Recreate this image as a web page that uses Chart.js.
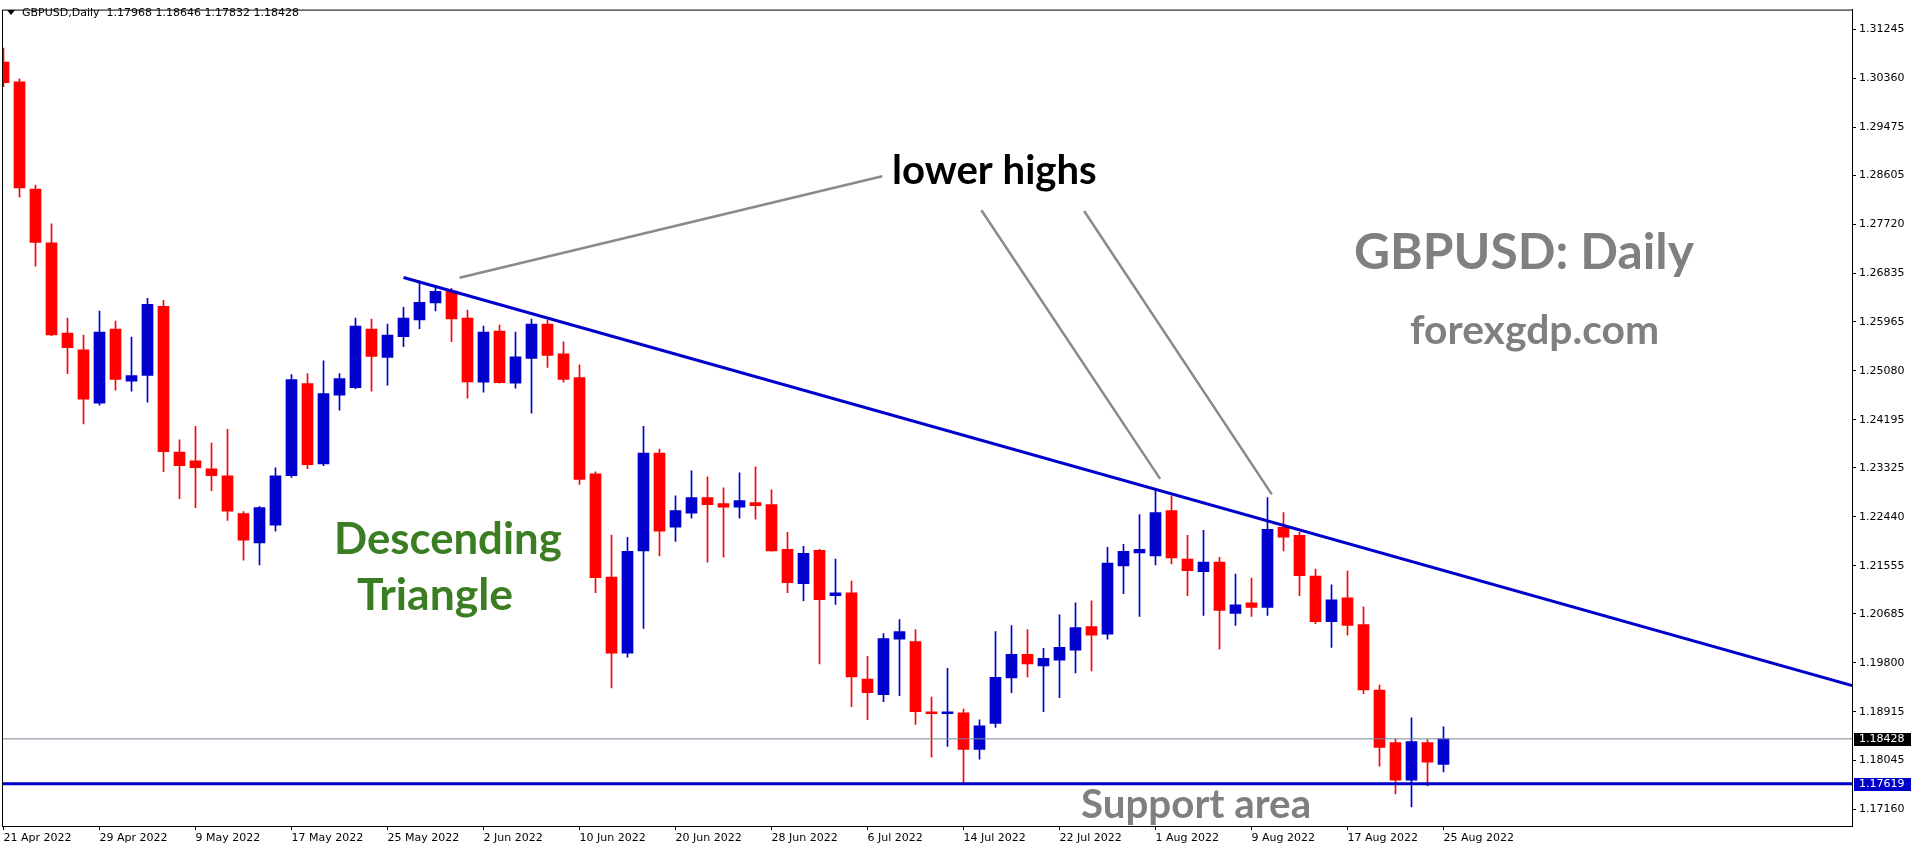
<!DOCTYPE html>
<html>
<head>
<meta charset="utf-8">
<title>GBPUSD Daily</title>
<script src="https://cdn.jsdelivr.net/npm/chart.js@4.4.1/dist/chart.umd.min.js"></script>
<style>
  html, body { margin: 0; padding: 0; background: #fff; }
</style>
</head>
<body>
<canvas id="myChart" width="1916" height="850"></canvas>
<script>
const symbol = "GBPUSD";

// one entry per daily candle (2022)
const dates = [
  "21 Apr", "22 Apr", "25 Apr", "26 Apr", "27 Apr", "28 Apr", "29 Apr",
  "2 May", "3 May", "4 May", "5 May", "6 May", "9 May", "10 May", "11 May", "12 May", "13 May",
  "16 May", "17 May", "18 May", "19 May", "20 May", "23 May", "24 May", "25 May", "26 May", "27 May",
  "30 May", "31 May", "1 Jun", "2 Jun", "3 Jun", "6 Jun", "7 Jun", "8 Jun", "9 Jun", "10 Jun",
  "13 Jun", "14 Jun", "15 Jun", "16 Jun", "17 Jun", "20 Jun", "21 Jun", "22 Jun", "23 Jun", "24 Jun",
  "27 Jun", "28 Jun", "29 Jun", "30 Jun", "1 Jul", "4 Jul", "5 Jul", "6 Jul", "7 Jul", "8 Jul",
  "11 Jul", "12 Jul", "13 Jul", "14 Jul", "15 Jul", "18 Jul", "19 Jul", "20 Jul", "21 Jul", "22 Jul",
  "25 Jul", "26 Jul", "27 Jul", "28 Jul", "29 Jul", "1 Aug", "2 Aug", "3 Aug", "4 Aug", "5 Aug",
  "8 Aug", "9 Aug", "10 Aug", "11 Aug", "12 Aug", "15 Aug", "16 Aug", "17 Aug", "18 Aug", "19 Aug",
  "22 Aug", "23 Aug", "24 Aug", "25 Aug"
];

const open = [
  1.30653, 1.30300, 1.28359, 1.27391, 1.25761, 1.25456, 1.24493, 1.25832, 1.24888, 1.24995,
  1.26244, 1.23610, 1.23449, 1.23305, 1.23180, 1.22499, 1.21967, 1.22289, 1.23185, 1.24847,
  1.23395, 1.24637, 1.24775, 1.25832, 1.25318, 1.25694, 1.25999, 1.26304, 1.26519, 1.26029,
  1.24870, 1.25796, 1.24852, 1.25300, 1.25922, 1.25384, 1.24954, 1.23216, 1.21352, 1.19977,
  1.21823, 1.23592, 1.22253, 1.22504, 1.22786, 1.22678, 1.22612, 1.22696, 1.22660, 1.21854,
  1.21232, 1.21836, 1.21017, 1.21065, 1.19506, 1.19225, 1.20228, 1.20187, 1.18915, 1.18884,
  1.18897, 1.18239, 1.18705, 1.19529, 1.19954, 1.19744, 1.19852, 1.20031, 1.20456, 1.20318,
  1.21554, 1.21787, 1.21734, 1.22553, 1.21675, 1.21447, 1.21621, 1.20694, 1.20886, 1.20802,
  1.22248, 1.22105, 1.21370, 1.20546, 1.20976, 1.20492, 1.19309, 1.18359, 1.17684, 1.18359,
  1.17968
];
const high = [
  1.30909, 1.30354, 1.28431, 1.27732, 1.26029, 1.25725, 1.26155, 1.25976, 1.25689, 1.26388,
  1.26352, 1.23830, 1.24076, 1.23771, 1.24022, 1.22535, 1.22624, 1.23323, 1.25008, 1.25026,
  1.25259, 1.25026, 1.26029, 1.26011, 1.25922, 1.26226, 1.26698, 1.26590, 1.26567, 1.26173,
  1.25886, 1.25904, 1.25778, 1.26011, 1.25994, 1.25599, 1.25187, 1.23252, 1.22110, 1.22069,
  1.24076, 1.23664, 1.22821, 1.23269, 1.23162, 1.22965, 1.23234, 1.23341, 1.22929, 1.22158,
  1.21907, 1.21854, 1.21675, 1.21280, 1.19918, 1.20330, 1.20581, 1.20402, 1.19184, 1.19703,
  1.18968, 1.18771, 1.20366, 1.20474, 1.20402, 1.20062, 1.20671, 1.20886, 1.20922, 1.21890,
  1.21943, 1.22481, 1.22929, 1.22821, 1.22105, 1.22194, 1.21710, 1.21406, 1.21334, 1.22786,
  1.22517, 1.22158, 1.21495, 1.21209, 1.21459, 1.20814, 1.19399, 1.18431, 1.18807, 1.18413,
  1.18646
];
const low = [
  1.30210, 1.28216, 1.26967, 1.25712, 1.25026, 1.24117, 1.24458, 1.24726, 1.24708, 1.24511,
  1.23257, 1.22768, 1.22606, 1.22911, 1.22373, 1.21657, 1.21572, 1.22182, 1.23153, 1.23311,
  1.23364, 1.24368, 1.24757, 1.24708, 1.24816, 1.25515, 1.25838, 1.26160, 1.25605, 1.24583,
  1.24691, 1.24852, 1.24762, 1.24314, 1.25139, 1.24870, 1.23024, 1.21071, 1.19350, 1.19906,
  1.20425, 1.21734, 1.21997, 1.22415, 1.21621, 1.21710, 1.22415, 1.22397, 1.21820, 1.21071,
  1.20927, 1.19780, 1.20856, 1.19010, 1.18777, 1.19099, 1.19207, 1.18687, 1.18096, 1.18293,
  1.17619, 1.18060, 1.18633, 1.19261, 1.19547, 1.18920, 1.19171, 1.19619, 1.19655, 1.20228,
  1.21053, 1.20640, 1.21572, 1.21590, 1.21017, 1.20658, 1.20049, 1.20479, 1.20640, 1.20658,
  1.21823, 1.21017, 1.20510, 1.20080, 1.20300, 1.19243, 1.17934, 1.17433, 1.17200, 1.17576,
  1.17832
];
const close = [
  1.30282, 1.28382, 1.27397, 1.25725, 1.25497, 1.24565, 1.25778, 1.24924, 1.24990, 1.26280,
  1.23615, 1.23364, 1.23329, 1.23185, 1.22540, 1.22020, 1.22606, 1.23180, 1.24918, 1.23382,
  1.24667, 1.24936, 1.25886, 1.25336, 1.25725, 1.26029, 1.26316, 1.26513, 1.26017, 1.24877,
  1.25778, 1.24864, 1.25330, 1.25922, 1.25354, 1.24924, 1.23114, 1.21339, 1.19977, 1.21818,
  1.23592, 1.22182, 1.22553, 1.22786, 1.22660, 1.22612, 1.22732, 1.22642, 1.21823, 1.21250,
  1.21782, 1.20945, 1.21065, 1.19547, 1.19261, 1.20241, 1.20366, 1.18920, 1.18884, 1.18915,
  1.18239, 1.18664, 1.19542, 1.19954, 1.19780, 1.19882, 1.20080, 1.20438, 1.20300, 1.21603,
  1.21818, 1.21854, 1.22517, 1.21698, 1.21465, 1.21621, 1.20748, 1.20850, 1.20802, 1.22212,
  1.22074, 1.21375, 1.20546, 1.20940, 1.20479, 1.19314, 1.18275, 1.17684, 1.18377, 1.18006,
  1.18428
];

// axis ticks
const xTicks = [0, 6, 12, 18, 24, 30, 36, 42, 48, 54, 60, 66, 72, 78, 84, 90];
const xTickLabels = [
  "21 Apr 2022", "29 Apr 2022", "9 May 2022", "17 May 2022", "25 May 2022", "2 Jun 2022",
  "10 Jun 2022", "20 Jun 2022", "28 Jun 2022", "6 Jul 2022", "14 Jul 2022", "22 Jul 2022",
  "1 Aug 2022", "9 Aug 2022", "17 Aug 2022", "25 Aug 2022"
];
const yTicks = [
  1.31245, 1.30360, 1.29475, 1.28605, 1.27720, 1.26835, 1.25965, 1.25080, 1.24195,
  1.23325, 1.22440, 1.21555, 1.20685, 1.19800, 1.18915, 1.18045, 1.17160
];

// drawn lines (candle index, price)
const trendX = [25, 115.54];
const trendY = [1.26764, 1.19390];
const supportLevel = 1.17619;
const bidLevel = 1.18428;
const pointerX = [[28.5, 54.92], [61.12, 72.29], [67.54, 79.27]];
const pointerY = [[1.26759, 1.28592], [1.27977, 1.23126], [1.27965, 1.22845]];

const bullColor = "#0000cc";
const bearColor = "#ff0000";
const candleColors = close.map((c, i) => (c >= open[i] ? bullColor : bearColor));

const bodies = dates.map((d, i) => ({ x: i, y: [open[i], close[i]] }));
const wicks = dates.map((d, i) => ({ x: i, y: [low[i], high[i]] }));

const lineSet = (pts, color, width) => ({
  type: "line",
  data: pts,
  borderColor: color,
  borderWidth: width,
  pointRadius: 0,
  tension: 0,
  clip: 0,
  order: 1,
});

const pointerSets = pointerX.map((xs, k) =>
  lineSet(
    [{ x: xs[0], y: pointerY[k][0] }, { x: xs[1], y: pointerY[k][1] }],
    "#8a8a8a",
    2.5
  )
);

// texts on the chart
const notes = [
  { text: "lower highs", x: 892, w: 205, y: 171, color: "#000000" },
  { text: "GBPUSD: Daily", x: 1354, w: 340, y: 253, color: "#808080" },
  { text: "forexgdp.com", x: 1410, w: 249, y: 331, color: "#808080" },
  { text: "Descending", x: 334, w: 228, y: 540, color: "#3b7d23" },
  { text: "Triangle", x: 357, w: 156, y: 596, color: "#3b7d23" },
  { text: "Support area", x: 1081, w: 230, y: 805, color: "#808080" },
];

const axisFont = "11px 'DejaVu Sans'";

const fitFont = (ctx, text, width) => {
  ctx.font = "bold 40px Lato";
  const size = (40 * width) / ctx.measureText(text).width;
  return `bold ${size.toFixed(1)}px Lato`;
};

const overlay = {
  id: "overlay",
  afterDraw(chart) {
    const ctx = chart.ctx;
    const a = chart.chartArea;
    const yScale = chart.scales.y;
    ctx.save();

    // frame
    ctx.strokeStyle = "#000";
    ctx.lineWidth = 1;
    ctx.strokeRect(a.left + 0.5, a.top + 0.5, a.right - a.left, a.bottom - a.top);

    // header
    ctx.fillStyle = "#000";
    ctx.beginPath();
    ctx.moveTo(7, 10);
    ctx.lineTo(15, 10);
    ctx.lineTo(11, 15);
    ctx.closePath();
    ctx.fill();
    const last = close.length - 1;
    ctx.font = axisFont;
    ctx.textBaseline = "middle";
    ctx.textAlign = "left";
    ctx.fillText(
      `${symbol},Daily  ${open[last].toFixed(5)} ${high[last].toFixed(5)} ${low[last].toFixed(5)} ${close[last].toFixed(5)}`,
      22, 13
    );

    // price tags on the axis
    const tag = (value, bg) => {
      const py = Math.round(yScale.getPixelForValue(value));
      ctx.fillStyle = bg;
      ctx.fillRect(a.right + 2, py - 6, 57, 13);
      ctx.fillStyle = "#fff";
      ctx.font = axisFont;
      ctx.fillText(value.toFixed(5), a.right + 7, py + 0.5);
    };
    tag(bidLevel, "#000000");
    tag(supportLevel, bullColor);

    // annotations
    notes.forEach((n) => {
      ctx.font = fitFont(ctx, n.text, n.w);
      ctx.fillStyle = n.color;
      ctx.textBaseline = "middle";
      ctx.fillText(n.text, n.x, n.y);
    });

    ctx.restore();
  },
};

const canvas = document.getElementById("myChart").getContext("2d");
let priceChart = new Chart(canvas, {
  type: "bar",
  data: {
    datasets: [
      {
        label: "wicks",
        data: wicks,
        backgroundColor: candleColors,
        barThickness: 1,
        grouped: false,
        borderWidth: 0,
        borderSkipped: false,
        clip: 0,
        order: 3,
      },
      {
        label: "bodies",
        data: bodies,
        backgroundColor: candleColors,
        barThickness: 11,
        grouped: false,
        borderWidth: 0,
        borderSkipped: false,
        clip: 0,
        order: 2,
      },
      lineSet([{ x: -2, y: bidLevel }, { x: 120, y: bidLevel }], "#778899", 1),
      lineSet([{ x: -2, y: supportLevel }, { x: 120, y: supportLevel }], bullColor, 3),
      lineSet([{ x: trendX[0], y: trendY[0] }, { x: trendX[1], y: trendY[1] }], bullColor, 3),
      ...pointerSets,
    ],
  },
  options: {
    responsive: false,
    maintainAspectRatio: false,
    animation: false,
    devicePixelRatio: 1,
    layout: { padding: { left: 2, top: 3, right: 0, bottom: 0 } },
    plugins: { legend: { display: false }, tooltip: { enabled: false } },
    scales: {
      x: {
        type: "linear",
        min: -0.09375,
        max: 115.53125,
        offset: false,
        afterBuildTicks: (s) => {
          s.ticks = xTicks.map((v) => ({ value: v }));
        },
        afterFit: (s) => {
          s.height = 24;
        },
        ticks: {
          autoSkip: false,
          maxRotation: 0,
          align: "start",
          padding: 2,
          color: "#000",
          font: { family: "DejaVu Sans", size: 11 },
          callback: (v, i) => xTickLabels[i],
        },
        grid: { drawOnChartArea: false, tickLength: 4, color: "#000", offset: false },
        border: { display: true, color: "#000", width: 1 },
      },
      y: {
        type: "linear",
        position: "right",
        min: 1.16854,
        max: 1.31603,
        afterBuildTicks: (s) => {
          s.ticks = yTicks.map((v) => ({ value: v }));
        },
        afterFit: (s) => {
          s.width = 64;
        },
        ticks: {
          padding: 3,
          color: "#000",
          font: { family: "DejaVu Sans", size: 11 },
          callback: (v) => Number(v).toFixed(5),
        },
        grid: { drawOnChartArea: false, tickLength: 4, color: "#000" },
        border: { display: true, color: "#000", width: 1 },
      },
    },
  },
  plugins: [overlay],
});
</script>
</body>
</html>
